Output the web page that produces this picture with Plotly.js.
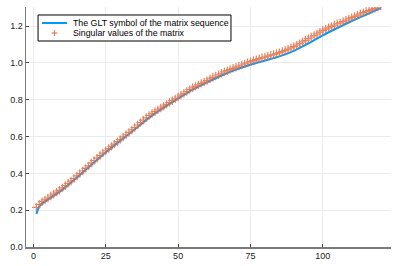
<!DOCTYPE html>
<html>
<head>
<meta charset="utf-8">
<script src="https://cdn.plot.ly/plotly-3.0.1.min.js"></script>
<style>html,body{margin:0;padding:0;background:#fff;}#chart{width:399px;height:266px;}</style>
</head>
<body>
<div id="chart"></div>
<script>
// GLT symbol (line)
const symbolX = [1, 2, 3, 5, 10, 15, 20, 25, 30, 35, 40, 45, 50, 55, 60, 65, 70, 75, 80, 85, 90, 95, 100, 105, 110, 115, 120];
const symbolY = [0.180, 0.220, 0.237, 0.258, 0.312, 0.377, 0.447, 0.515, 0.578, 0.640, 0.703, 0.757, 0.807, 0.855, 0.895, 0.932, 0.964, 0.990, 1.013, 1.036, 1.066, 1.106, 1.150, 1.190, 1.228, 1.263, 1.298];

// Singular values of the matrix (index 1..120)
const svIndex = [];
for (let i = 1; i <= 120; i++) svIndex.push(i);
const svValues = [
  0.215, 0.232, 0.246, 0.256, 0.266, 0.277, 0.287, 0.298, 0.308, 0.321,
  0.333, 0.346, 0.358, 0.372, 0.386, 0.399, 0.413, 0.427, 0.441, 0.456,
  0.470, 0.483, 0.497, 0.510, 0.523, 0.535, 0.547, 0.559, 0.572, 0.584,
  0.598, 0.610, 0.623, 0.636, 0.649, 0.663, 0.676, 0.689, 0.702, 0.715,
  0.725, 0.735, 0.745, 0.755, 0.765, 0.775, 0.785, 0.795, 0.805, 0.815,
  0.825, 0.835, 0.845, 0.855, 0.865, 0.873, 0.881, 0.889, 0.896, 0.904,
  0.914, 0.922, 0.929, 0.936, 0.944, 0.951, 0.958, 0.965, 0.971, 0.977,
  0.983, 0.989, 0.995, 1.001, 1.007, 1.013, 1.018, 1.023, 1.028, 1.032,
  1.037, 1.042, 1.046, 1.051, 1.056, 1.062, 1.068, 1.075, 1.082, 1.089,
  1.097, 1.105, 1.114, 1.123, 1.132, 1.141, 1.149, 1.158, 1.167, 1.176,
  1.184, 1.191, 1.199, 1.206, 1.213, 1.218, 1.225, 1.232, 1.239, 1.246,
  1.253, 1.260, 1.267, 1.273, 1.280, 1.285, 1.291, 1.297, 1.304, 1.311
];

const xTicks = [0, 25, 50, 75, 100];
const yTicks = [0.0, 0.2, 0.4, 0.6, 0.8, 1.0, 1.2];
const seriesNames = ["The GLT symbol of the matrix sequence", "Singular values of the matrix"];
const blue = "#009AFA", red = "#E26F46";
const fontFam = "Liberation Sans, Arial, sans-serif";

const traces = [
  {
    x: symbolX, y: symbolY, type: "scatter", mode: "lines",
    name: seriesNames[0],
    line: {color: blue, width: 2, shape: "spline", smoothing: 0.6}
  },
  {
    x: svIndex, y: svValues, type: "scatter", mode: "markers",
    name: seriesNames[1],
    marker: {symbol: "cross-thin-open", size: 6, color: red,
             line: {color: red, width: 1.2}},
    opacity: 0.85
  }
];

const axisCommon = {
  showgrid: true, gridcolor: "#ebebeb", gridwidth: 1,
  zeroline: false, showline: true, linecolor: "#7a7a7a", linewidth: 1.5,
  ticks: "inside", ticklen: 3, tickcolor: "#444", tickwidth: 1,
  tickfont: {family: fontFam, size: 9, color: "#222"},
  mirror: false
};

// compact legend (paper coordinates)
const lgX0 = 0.033, lgX1 = 0.5616, lgY0 = 0.8583, lgY1 = 0.9667;
const row1 = 0.9333, row2 = 0.8917;
const symX0 = 0.0438, symX1 = 0.1123, symXc = 0.0781, textX = 0.1225;
const dx = 0.0082, dy = 0.0125;

const layout = {
  width: 399, height: 266,
  margin: {l: 26, r: 8, t: 7, b: 19, pad: 0},
  paper_bgcolor: "#ffffff", plot_bgcolor: "#ffffff",
  showlegend: false,
  xaxis: Object.assign({}, axisCommon, {
    range: [-2.57, 123.57], tickvals: xTicks, ticktext: xTicks.map(String)
  }),
  yaxis: Object.assign({}, axisCommon, {
    range: [0, 1.304], tickvals: yTicks, ticktext: yTicks.map(v => v.toFixed(1))
  }),
  shapes: [
    {type: "rect", xref: "paper", yref: "paper", x0: lgX0, x1: lgX1, y0: lgY0, y1: lgY1,
     fillcolor: "#ffffff", line: {color: "#000000", width: 1}, layer: "above"},
    {type: "line", xref: "paper", yref: "paper", x0: symX0, x1: symX1, y0: row1, y1: row1,
     line: {color: blue, width: 2}, layer: "above"},
    {type: "line", xref: "paper", yref: "paper", x0: symXc - dx, x1: symXc + dx, y0: row2, y1: row2,
     line: {color: red, width: 1.2}, layer: "above", opacity: 0.85},
    {type: "line", xref: "paper", yref: "paper", x0: symXc, x1: symXc, y0: row2 - dy, y1: row2 + dy,
     line: {color: red, width: 1.2}, layer: "above", opacity: 0.85}
  ],
  annotations: [
    {xref: "paper", yref: "paper", x: textX, y: row1, xanchor: "left", yanchor: "middle",
     text: seriesNames[0], showarrow: false, font: {family: fontFam, size: 8.8, color: "#000"}},
    {xref: "paper", yref: "paper", x: textX, y: row2, xanchor: "left", yanchor: "middle",
     text: seriesNames[1], showarrow: false, font: {family: fontFam, size: 8.8, color: "#000"}}
  ],
  font: {family: fontFam}
};

Plotly.newPlot("chart", traces, layout, {displayModeBar: false, staticPlot: true});
</script>
</body>
</html>
